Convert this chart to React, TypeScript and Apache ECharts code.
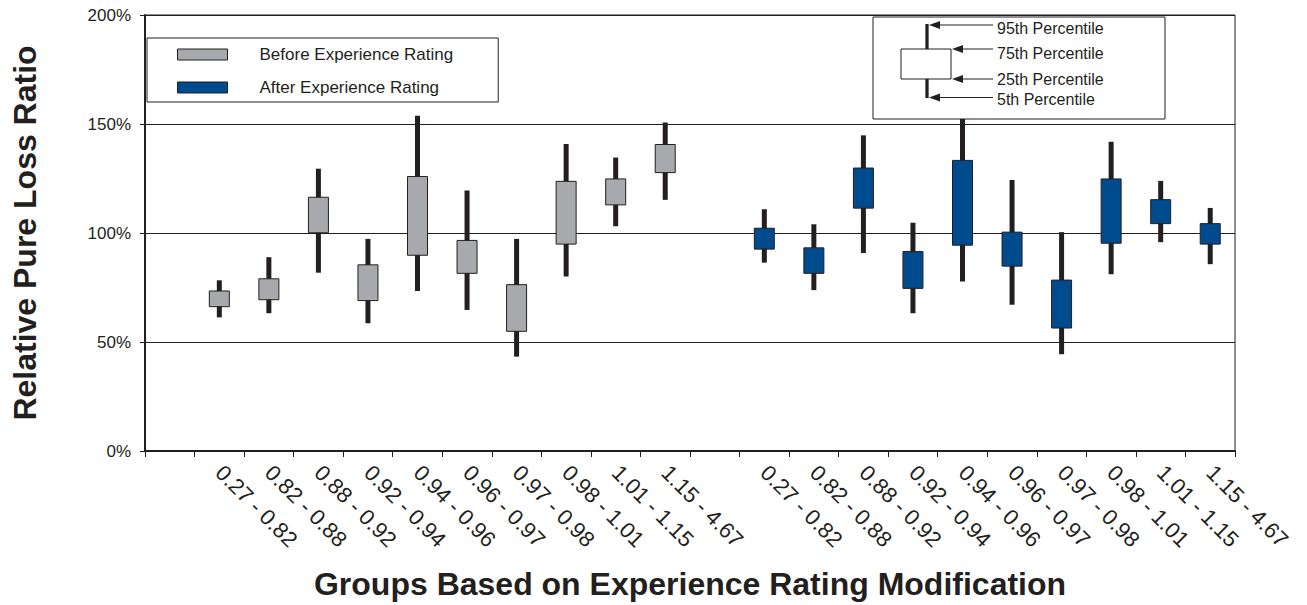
import React, { useEffect, useRef } from "react";
import * as echarts from "echarts";

const groupLabels = [
  "0.27 - 0.82", "0.82 - 0.88", "0.88 - 0.92", "0.92 - 0.94", "0.94 - 0.96",
  "0.96 - 0.97", "0.97 - 0.98", "0.98 - 1.01", "1.01 - 1.15", "1.15 - 4.67",
];

const beforeP5 = [61.3, 63.2, 81.8, 58.6, 73.4, 64.7, 43.3, 80.1, 103.1, 115.2];
const beforeP25 = [66.2, 69.4, 100.1, 69.0, 89.8, 81.5, 54.9, 94.9, 112.9, 127.7];
const beforeP75 = [73.4, 79.0, 116.4, 85.4, 125.9, 96.6, 76.3, 123.7, 124.8, 140.6];
const beforeP95 = [78.3, 88.9, 129.5, 97.3, 153.8, 119.5, 97.3, 140.8, 134.6, 150.7];

const afterP5 = [86.4, 73.8, 90.8, 63.2, 77.8, 67.1, 44.4, 81.1, 95.8, 85.7];
const afterP25 = [92.6, 81.5, 111.4, 74.6, 94.4, 84.8, 56.4, 95.3, 104.3, 94.9];
const afterP75 = [102.2, 93.2, 129.8, 91.5, 133.3, 100.4, 78.4, 124.8, 115.3, 104.3];
const afterP95 = [110.9, 104.0, 144.8, 104.7, 153.3, 124.3, 100.4, 141.9, 123.9, 111.5];

const yTicks = [0, 50, 100, 150, 200];
const keyLabels = ["95th Percentile", "75th Percentile", "25th Percentile", "5th Percentile"];

const FONT = '"Liberation Sans", Arial, Helvetica, sans-serif';
const INK = "#231f20";
const GRAY = "#a7a9ac";
const BLUE = "#004b8d";

// category slots: empty, 10 before, empty, 10 after
const categoryKeys: string[] = [
  "gap0",
  ...groupLabels.map((g) => "B|" + g),
  "gap1",
  ...groupLabels.map((g) => "A|" + g),
];

function buildData(p5: number[], p25: number[], p75: number[], p95: number[], offset: number) {
  return p5.map((_, i) => [i + offset, p5[i], p25[i], p75[i], p95[i]]);
}

function makeRender(fill: string) {
  return (params: any, api: any) => {
    const x = api.value(0);
    const top = api.coord([x, api.value(4)]);
    const bot = api.coord([x, api.value(1)]);
    const q3 = api.coord([x, api.value(3)]);
    const q1 = api.coord([x, api.value(2)]);
    return {
      type: "group",
      children: [
        {
          type: "rect",
          shape: { x: top[0] - 2.5, y: top[1], width: 5, height: bot[1] - top[1] },
          style: { fill: INK },
        },
        {
          type: "rect",
          shape: { x: top[0] - 10, y: q3[1], width: 20, height: q1[1] - q3[1] },
          style: { fill, stroke: INK, lineWidth: 1 },
        },
      ],
    };
  };
}

function arrow(tipX: number, y: number, tailX: number) {
  return [
    {
      type: "line",
      shape: { x1: tipX + 8, y1: y, x2: tailX, y2: y },
      style: { stroke: INK, lineWidth: 1.2 },
    },
    {
      type: "polygon",
      shape: { points: [[tipX, y], [tipX + 11, y - 4], [tipX + 11, y + 4]] },
      style: { fill: INK },
    },
  ];
}

export default function App() {
  const ref = useRef<HTMLDivElement>(null);
  useEffect(() => {
    if (!ref.current) return;
    const chart = echarts.init(ref.current, null, { renderer: "svg" });
    const keyY = [28, 53, 79, 99];
    const option: any = {
      animation: false,
      backgroundColor: "#ffffff",
      textStyle: { fontFamily: FONT, color: INK },
      grid: {
        left: 145,
        top: 15,
        right: 72,
        bottom: 151,
        show: true,
        borderColor: INK,
        borderWidth: 1,
        backgroundColor: "transparent",
      },
      legend: {
        left: 147,
        top: 38,
        orient: "vertical",
        selectedMode: false,
        padding: [8, 45, 6, 30],
        itemWidth: 50,
        itemHeight: 11,
        itemGap: 16,
        borderColor: INK,
        borderWidth: 1,
        textStyle: { fontSize: 17, color: INK, fontFamily: FONT, padding: [0, 0, 0, 27] },
        data: [
          { name: "Before Experience Rating", icon: "rect", itemStyle: { color: GRAY, borderColor: INK, borderWidth: 1 } },
          { name: "After Experience Rating", icon: "rect", itemStyle: { color: BLUE, borderColor: INK, borderWidth: 1 } },
        ],
      },
      xAxis: {
        type: "category",
        data: categoryKeys,
        boundaryGap: true,
        name: "Groups Based on Experience Rating Modification",
        nameLocation: "middle",
        nameGap: 117,
        nameTextStyle: { fontSize: 32, fontWeight: "bold", color: INK, fontFamily: FONT },
        axisLine: { lineStyle: { color: INK, width: 2 } },
        axisTick: { show: true, interval: 0, length: 6, lineStyle: { color: INK, width: 1 } },
        axisLabel: {
          interval: 0,
          rotate: -45,
          margin: 18,
          fontSize: 22,
          color: INK,
          fontFamily: FONT,
          formatter: (v: string) => (v.startsWith("gap") ? "" : v.slice(2)),
        },
        splitLine: { show: false },
      },
      yAxis: {
        type: "value",
        min: yTicks[0],
        max: yTicks[yTicks.length - 1],
        interval: 50,
        name: "Relative Pure Loss Ratio",
        nameLocation: "middle",
        nameGap: 104,
        nameTextStyle: { fontSize: 32, fontWeight: "bold", color: INK, fontFamily: FONT },
        axisLine: { show: true, lineStyle: { color: INK, width: 2 } },
        axisTick: { show: true, length: 5, lineStyle: { color: INK, width: 1 } },
        axisLabel: { fontSize: 17, color: INK, margin: 14, fontFamily: FONT, formatter: "{value}%" },
        splitLine: { show: true, lineStyle: { color: INK, width: 1 } },
      },
      graphic: [
        {
          type: "group",
          children: [
            {
              type: "rect",
              shape: { x: 873, y: 17, width: 292, height: 102 },
              style: { fill: "#fff", stroke: INK, lineWidth: 1 },
              z: 10,
            },
            {
              type: "line",
              shape: { x1: 927, y1: 24, x2: 927, y2: 98 },
              style: { stroke: INK, lineWidth: 3.3 },
              z: 11,
            },
            {
              type: "rect",
              shape: { x: 901, y: 49, width: 50, height: 30 },
              style: { fill: "#fff", stroke: INK, lineWidth: 1 },
              z: 12,
            },
            ...arrow(929, 25, 993).map((e) => ({ ...e, z: 12 })),
            ...arrow(952, 49, 993).map((e) => ({ ...e, z: 12 })),
            ...arrow(952, 79, 993).map((e) => ({ ...e, z: 12 })),
            ...arrow(929, 97.5, 993).map((e) => ({ ...e, z: 12 })),
            ...keyLabels.map((t, i) => ({
              type: "text",
              x: 997,
              y: keyY[i],
              z: 12,
              style: {
                text: t,
                fontSize: 16,
                fontFamily: FONT,
                fill: INK,
                verticalAlign: "middle",
                align: "left",
              },
            })),
          ],
        },
      ],
      series: [
        {
          name: "Before Experience Rating",
          type: "custom",
          renderItem: makeRender(GRAY),
          itemStyle: { color: GRAY, borderColor: INK, borderWidth: 1 },
          encode: { x: 0, y: [1, 2, 3, 4] },
          data: buildData(beforeP5, beforeP25, beforeP75, beforeP95, 1),
          z: 5,
        },
        {
          name: "After Experience Rating",
          type: "custom",
          renderItem: makeRender(BLUE),
          itemStyle: { color: BLUE, borderColor: INK, borderWidth: 1 },
          encode: { x: 0, y: [1, 2, 3, 4] },
          data: buildData(afterP5, afterP25, afterP75, afterP95, 12),
          z: 5,
        },
      ],
    };
    chart.setOption(option);
    return () => chart.dispose();
  }, []);
  return (
    <div
      ref={ref}
      style={{ position: "absolute", left: 0, top: 0, width: 1307, height: 605, background: "#fff" }}
    />
  );
}
